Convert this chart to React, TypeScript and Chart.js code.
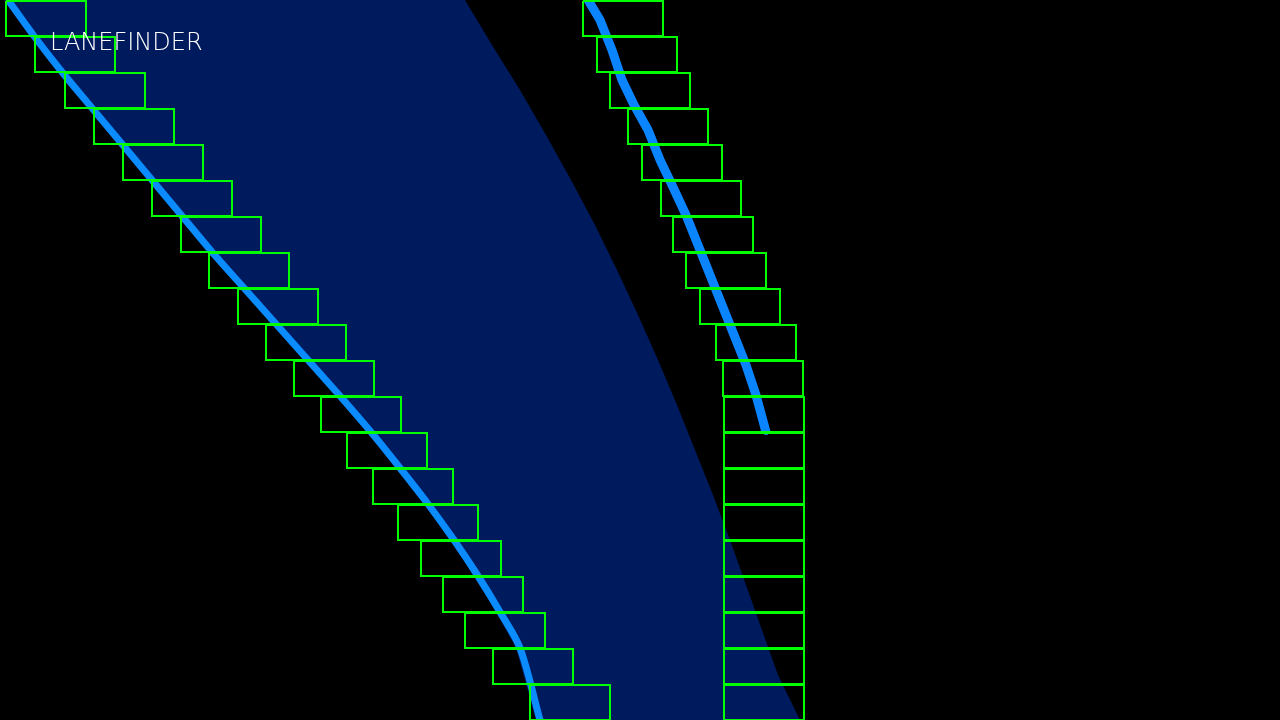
import { useEffect, useRef } from 'react';
import { Chart, registerables } from 'chart.js';

Chart.register(...registerables);

const rowTops = [0, 36, 72, 108, 144, 180, 216, 252, 288, 324, 360, 396, 432, 468, 504, 540, 576, 612, 648, 684];
const leftWindowX = [6, 35, 65, 94, 123, 152, 181, 209, 238, 266, 294, 321, 347, 373, 398, 421, 443, 465, 493, 530];
const rightWindowX = [583, 597, 610, 628, 642, 661, 673, 686, 700, 716, 723, 724, 724, 724, 724, 724, 724, 724, 724, 724];
const windowW = 80;
const windowH = 36;

const leftLaneX = [4, 30, 58, 88, 118, 148, 178, 208, 240, 272, 304, 336, 367, 396, 424, 450, 474, 496, 516, 536];
const leftLaneY = [0, 36, 72, 108, 144, 180, 216, 252, 288, 324, 360, 396, 432, 468, 504, 540, 576, 612, 648, 720];
const rightEdgeX = [465, 492, 520, 546, 571, 595, 617, 638, 658, 677, 695, 713, 730, 746, 762, 778, 800];
const rightEdgeY = [0, 45, 90, 135, 180, 225, 270, 315, 360, 405, 450, 495, 540, 585, 630, 675, 720];
const rightPixX = [588, 600, 612, 622, 634, 648, 660, 672, 686, 698, 710, 722, 734, 746, 756, 766];
const rightPixY = [0, 20, 50, 80, 105, 130, 160, 185, 215, 245, 275, 305, 335, 365, 395, 432];

function App() {
  const canvasRef = useRef<HTMLCanvasElement | null>(null);
  useEffect(() => {
    document.body.style.margin = '0';
    document.body.style.background = '#000';
    if (!canvasRef.current) return;
    const region = [
      ...leftLaneX.map((x, i) => ({ x, y: leftLaneY[i] })),
      ...rightEdgeX.map((x, i) => ({ x, y: rightEdgeY[i] })).reverse(),
    ];
    const rects: any[] = [];
    rowTops.forEach((top, i) => {
      [leftWindowX[i], rightWindowX[i]].forEach((x) => {
        rects.push({ x, y: top + 1 }, { x: x + windowW, y: top + 1 }, { x: x + windowW, y: top + windowH },
          { x, y: top + windowH }, { x, y: top + 1 }, { x, y: null });
      });
    });
    const label = {
      id: 'label',
      afterDraw(c: Chart) {
        const ctx = c.ctx;
        ctx.save();
        ctx.fillStyle = '#fff';
        ctx.font = '300 24px "DejaVu Sans", sans-serif';
        ctx.fillText('LANEFINDER', 50, 50);
        ctx.restore();
      },
    };
    const chart = new Chart(canvasRef.current, {
      type: 'scatter',
      data: {
        datasets: [
          { data: region, showLine: true, fill: 'shape', backgroundColor: '#001a5e', borderWidth: 0, pointRadius: 0, order: 4 } as any,
          { data: leftLaneX.map((x, i) => ({ x: x + 4, y: leftLaneY[i] })), showLine: true, tension: 0.3, borderColor: '#0a8cff', borderWidth: 7, pointRadius: 0, order: 3 },
          { data: rightPixX.map((x, i) => ({ x, y: rightPixY[i] })), showLine: true, borderColor: '#0a84ff', borderWidth: 9, pointRadius: 3, pointBackgroundColor: '#0a84ff', pointBorderWidth: 0, order: 2 },
          { data: rects, showLine: true, spanGaps: false, borderColor: '#00ff00', borderWidth: 2, pointRadius: 0, order: 1 },
        ],
      },
      options: {
        animation: false,
        responsive: false,
        layout: { padding: 0, autoPadding: false },
        scales: {
          x: { type: 'linear', min: 0, max: 1280, display: false },
          y: { type: 'linear', min: 0, max: 720, reverse: true, display: false },
        },
        plugins: { legend: { display: false }, tooltip: { enabled: false } },
      },
      plugins: [label],
    });
    return () => chart.destroy();
  }, []);
  return <canvas ref={canvasRef} width={1280} height={720} style={{ display: 'block', background: '#000' }} />;
}

export default App;
